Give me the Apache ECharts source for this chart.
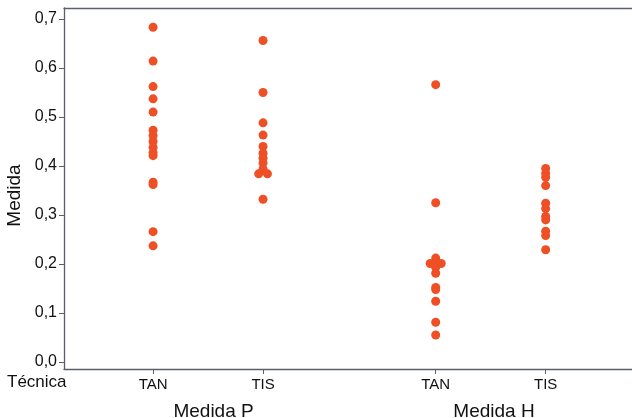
<!DOCTYPE html>
<html><head><meta charset="utf-8">
<script src="https://cdn.jsdelivr.net/npm/echarts@6/dist/echarts.min.js"></script>
<style>html,body{margin:0;padding:0;background:#fff}#c{width:632px;height:418px}</style>
</head><body><div id="c"></div>
<script>
// Technique labels and their x positions (axis units)
const techLabels = ['TAN', 'TIS', 'TAN', 'TIS'];
const techPos = [0, 1, 2.57, 3.57];
const groupLabels = ['Medida P', 'Medida H'];
const yTicks = [0, 0.1, 0.2, 0.3, 0.4, 0.5, 0.6, 0.7];

// Measured values per group/technique
const pTAN = [0.683, 0.614, 0.562, 0.537, 0.510, 0.473, 0.462, 0.450, 0.438, 0.427, 0.421, 0.367, 0.362, 0.266, 0.237];
const pTIS = [0.656, 0.550, 0.488, 0.463, 0.440, 0.426, 0.416, 0.406, 0.394, 0.384, 0.384, 0.332];
const hTAN = [0.566, 0.325, 0.212, 0.201, 0.201, 0.201, 0.193, 0.181, 0.152, 0.148, 0.124, 0.081, 0.055];
const hTIS = [0.395, 0.385, 0.377, 0.360, 0.324, 0.313, 0.297, 0.290, 0.267, 0.258, 0.229];
// horizontal jitter of overlapping points (axis units)
const pTISJitter = [0, 0, 0, 0, 0, 0, 0, 0, 0, -0.04, 0.04, 0];
const hTANJitter = [0, 0, 0, -0.05, 0, 0.05, 0, 0, 0, 0, 0, 0, 0];

const font = 'Liberation Sans, Arial, Helvetica, sans-serif';
const dotColor = '#ef4f25';
const axisColor = '#5a5f6b';
const xMin = -0.81, xMax = 4.355;

function pts(vals, pos, jit) {
  return vals.map((v, i) => [pos + (jit ? jit[i] : 0), v]);
}
const groupPos = [(techPos[0] + techPos[1]) / 2 + 0.05, (techPos[2] + techPos[3]) / 2 + 0.03];

const chart = echarts.init(document.getElementById('c'), null, {renderer: 'canvas'});
chart.setOption({
  animation: false,
  grid: {left: 64, top: 8, right: 0, bottom: 49, show: false, containLabel: false, outerBoundsMode: 'none'},
  xAxis: [{
    type: 'value', min: xMin, max: xMax,
    splitLine: {show: false},
    axisLine: {show: true, onZero: false, lineStyle: {color: axisColor, width: 1.3}},
    axisTick: {show: true, customValues: techPos, length: 5, lineStyle: {color: axisColor}},
    axisLabel: {customValues: techPos, margin: 8, color: '#111', fontFamily: font, fontSize: 15,
      formatter: function (v) { const i = techPos.indexOf(v); return i >= 0 ? techLabels[i] : ''; }}
  }, {
    type: 'value', min: xMin, max: xMax, position: 'bottom', offset: 27,
    splitLine: {show: false}, axisLine: {show: false}, axisTick: {show: false},
    axisLabel: {customValues: groupPos, margin: 6, color: '#111', fontFamily: font, fontSize: 19,
      formatter: function (v) { const i = groupPos.indexOf(v); return i >= 0 ? groupLabels[i] : ''; }}
  }, {
    type: 'value', min: xMin, max: xMax, position: 'top',
    splitLine: {show: false}, axisTick: {show: false}, axisLabel: {show: false},
    axisLine: {show: true, onZero: false, lineStyle: {color: axisColor, width: 1.3}}
  }],
  yAxis: {
    type: 'value', min: -0.0143, max: 0.7224,
    name: 'Medida', nameLocation: 'middle', nameGap: 29,
    nameTextStyle: {color: '#111', fontFamily: font, fontSize: 19, padding: [0, 14, 0, 0]},
    splitLine: {show: false},
    axisLine: {show: true, onZero: false, lineStyle: {color: axisColor, width: 1.3}},
    axisTick: {show: true, customValues: yTicks, length: 5, lineStyle: {color: axisColor}},
    axisLabel: {customValues: yTicks, margin: 7, color: '#111', fontFamily: font, fontSize: 16,
      formatter: function (v) { return v.toFixed(1).replace('.', ','); }}
  },
  graphic: [{type: 'text', left: 7, top: 374,
    style: {text: 'Técnica', fill: '#111', font: '17px ' + font}}],
  series: [
    {type: 'scatter', data: pts(pTAN, techPos[0])},
    {type: 'scatter', data: pts(pTIS, techPos[1], pTISJitter)},
    {type: 'scatter', data: pts(hTAN, techPos[2], hTANJitter)},
    {type: 'scatter', data: pts(hTIS, techPos[3])}
  ].map(s => Object.assign(s, {symbol: 'circle', symbolSize: 9, itemStyle: {color: dotColor, opacity: 1}}))
});
</script></body></html>
